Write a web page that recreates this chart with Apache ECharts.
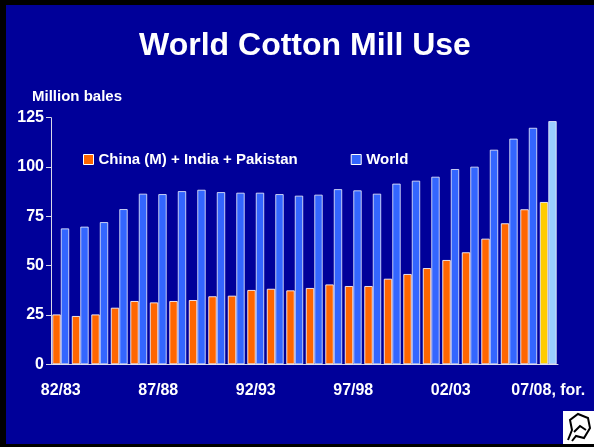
<!DOCTYPE html>
<html>
<head>
<meta charset="utf-8">
<script src="https://cdn.jsdelivr.net/npm/echarts@6/dist/echarts.min.js"></script>
<style>
html,body{margin:0;padding:0;background:#000;}
#chart{width:594px;height:447px;}
</style>
</head>
<body>
<div id="chart"></div>
<script>
const categories = ['82/83','83/84','84/85','85/86','86/87','87/88','88/89','89/90','90/91','91/92','92/93','93/94','94/95','95/96','96/97','97/98','98/99','99/00','00/01','01/02','02/03','03/04','04/05','05/06','06/07','07/08, for.'];
const chinaIndiaPakistan = [25.3, 24.5, 25.3, 28.7, 32.1, 31.4, 32.1, 32.6, 34.5, 34.8, 37.7, 38.3, 37.5, 38.7, 40.5, 39.7, 39.7, 43.4, 45.8, 48.8, 52.9, 56.8, 63.7, 71.5, 78.6, 82.3];
const world = [68.9, 69.8, 72.1, 78.7, 86.5, 86.3, 87.8, 88.5, 87.3, 87.0, 87.0, 86.3, 85.5, 86.0, 88.8, 88.2, 86.5, 91.6, 93.1, 95.1, 99.0, 100.2, 108.8, 114.4, 119.9, 123.3];
const yTicks = [0, 25, 50, 75, 100, 125];

const FONT = "'Liberation Sans', Arial, sans-serif";
const lastIdx = categories.length - 1;
const chinaData = chinaIndiaPakistan.map((v, i) => i === lastIdx ? {value: v, itemStyle: {color: '#ffcc00'}} : v);
const worldData = world.map((v, i) => i === lastIdx ? {value: v, itemStyle: {color: '#99ccff'}} : v);

const chart = echarts.init(document.getElementById('chart'), null, {renderer: 'canvas'});
chart.setOption({
  backgroundColor: '#000000',
  animation: false,
  textStyle: {fontFamily: FONT},
  graphic: [
    {type: 'rect', z: -10, shape: {x: 6, y: 5, width: 588, height: 439}, style: {fill: '#000099'}},
    {type: 'rect', z: 10, shape: {x: 563, y: 411, width: 31, height: 33}, style: {fill: '#ffffff'}},
    {type: 'polyline', z: 11, shape: {points: [[568,440],[572,430],[570,420],[578,414],[588,418],[590,428],[584,438],[576,436],[572,441]]}, style: {stroke: '#000', lineWidth: 2, fill: null}},
    {type: 'polyline', z: 11, shape: {points: [[574,432],[580,426],[586,430]]}, style: {stroke: '#000', lineWidth: 2, fill: null}}
  ],
  title: [
    {text: 'World Cotton Mill Use', left: 300, top: 25, textAlign: 'center',
     textStyle: {color: '#ffffff', fontSize: 32, fontWeight: 'bold', fontFamily: FONT}},
    {text: 'Million bales', left: 32, top: 89, padding: 0,
     textStyle: {color: '#ffffff', fontSize: 15, fontWeight: 'bold', fontFamily: FONT}}
  ],
  legend: {
    left: 83, top: 152, itemWidth: 10, itemHeight: 10, itemGap: 53, padding: 0,
    icon: 'rect',
    itemStyle: {borderColor: '#ffffff', borderWidth: 1},
    textStyle: {color: '#ffffff', fontSize: 15, fontWeight: 'bold', fontFamily: FONT, padding: [0,0,0,0]},
    data: ['China (M) + India + Pakistan', 'World']
  },
  grid: {left: 51, right: 36, top: 117.7, bottom: 82.7, containLabel: false},
  xAxis: {
    type: 'category', data: categories,
    axisLine: {lineStyle: {color: '#d8d8e8', width: 1}},
    axisTick: {show: false},
    axisLabel: {interval: 4, color: '#ffffff', fontSize: 16, fontWeight: 'bold', fontFamily: FONT, margin: 18}
  },
  yAxis: {
    type: 'value', min: yTicks[0], max: yTicks[yTicks.length - 1], interval: 25,
    axisLine: {show: true, lineStyle: {color: '#d8d8e8', width: 1}},
    axisTick: {show: true, length: 5, lineStyle: {color: '#d8d8e8'}},
    splitLine: {show: false},
    axisLabel: {color: '#ffffff', fontSize: 16, fontWeight: 'bold', fontFamily: FONT, margin: 7}
  },
  series: [
    {name: 'China (M) + India + Pakistan', type: 'bar', data: chinaData, barGap: '0%', barCategoryGap: '13%',
     itemStyle: {color: '#ff6600', borderColor: 'rgba(255,255,255,0.85)', borderWidth: 1}},
    {name: 'World', type: 'bar', data: worldData, barGap: '0%', barCategoryGap: '13%',
     itemStyle: {color: '#3366ff', borderColor: 'rgba(255,255,255,0.75)', borderWidth: 1}}
  ]
});
</script>
</body>
</html>
